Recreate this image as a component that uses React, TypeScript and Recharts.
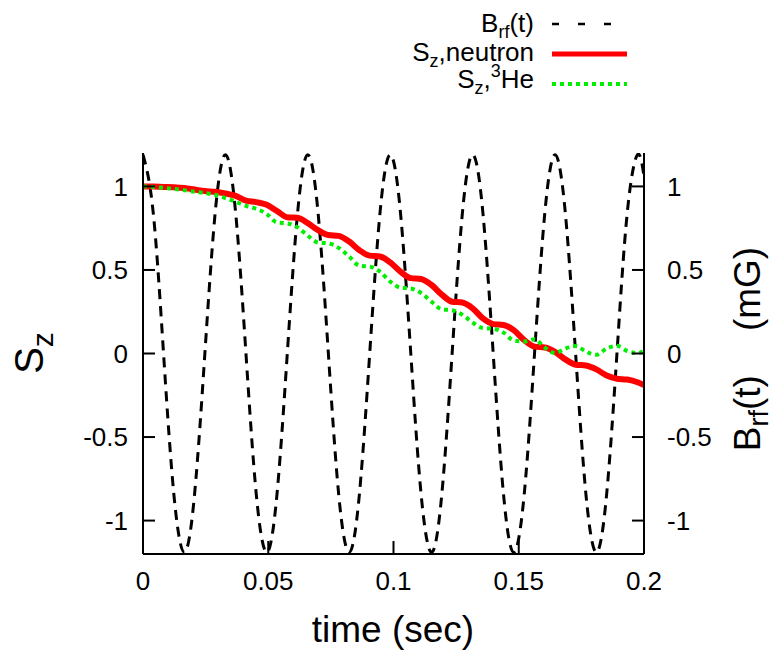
import { LineChart, Line, XAxis, YAxis, Legend, Label } from 'recharts';

const timeSec = [
  0, 0.0041, 0.0082, 0.0123, 0.0165, 0.0206, 0.0247, 0.0288, 0.0329, 0.037,
  0.0411, 0.0452, 0.0494, 0.0535, 0.0576, 0.0617, 0.0658, 0.0699, 0.074, 0.0781,
  0.0823, 0.0864, 0.0905, 0.0946, 0.0987, 0.1028, 0.1069, 0.111, 0.1152, 0.1193,
  0.1234, 0.1275, 0.1316, 0.1357, 0.1398, 0.1439, 0.148, 0.1522, 0.1563, 0.1604,
  0.1645, 0.1686, 0.1727, 0.1768, 0.181, 0.1851, 0.1892, 0.1933, 0.1974, 0.2,
];

const brfValues = [
  1.19, 0.84, 0, -0.84, -1.19, -0.84, 0, 0.84,
  1.19, 0.84, 0, -0.84, -1.19, -0.84, 0, 0.84,
  1.19, 0.84, 0, -0.84, -1.19, -0.84, 0, 0.84,
  1.19, 0.84, 0, -0.84, -1.19, -0.84, 0, 0.84,
  1.19, 0.84, 0, -0.84, -1.19, -0.84, 0, 0.84,
  1.19, 0.84, 0, -0.84, -1.19, -0.84, 0, 0.84,
  1.19, 1.06,
];

const neutronValues = [
  1.0, 0.999, 0.997, 0.995, 0.99, 0.981, 0.972, 0.968, 0.958, 0.943,
  0.915, 0.906, 0.89, 0.853, 0.815, 0.812, 0.78, 0.738, 0.709, 0.704,
  0.67, 0.618, 0.586, 0.581, 0.545, 0.49, 0.451, 0.446, 0.41, 0.352,
  0.31, 0.305, 0.27, 0.21, 0.176, 0.171, 0.14, 0.08, 0.041, 0.036,
  0.01, -0.035, -0.067, -0.072, -0.095, -0.132, -0.151, -0.156, -0.172, -0.189,
];

const heliumValues = [
  1.0, 0.997, 0.991, 0.985, 0.977, 0.968, 0.96, 0.95, 0.93, 0.908,
  0.884, 0.866, 0.835, 0.784, 0.779, 0.755, 0.705, 0.664, 0.659, 0.632,
  0.58, 0.525, 0.52, 0.49, 0.43, 0.394, 0.389, 0.362, 0.31, 0.264,
  0.259, 0.232, 0.185, 0.152, 0.148, 0.125, 0.078, 0.072, 0.085, 0.035,
  0.003, 0.03, 0.045, 0.012, -0.008, 0.03, 0.046, 0.015, 0.002, 0.018,
];

const xTicks = [0, 0.05, 0.1, 0.15, 0.2];
const xTickLabels = ['0', '0.05', '0.1', '0.15', '0.2'];
const yTicks = [-1, -0.5, 0, 0.5, 1];
const yTickLabels = ['-1', '-0.5', '0', '0.5', '1'];

const chartData = timeSec.map((t, i) => ({
  t,
  brf: brfValues[i],
  neutron: neutronValues[i],
  helium: heliumValues[i],
}));

const FONT = '"Liberation Sans", Arial, Helvetica, sans-serif';
const GREEN = '#00ee00';

const xLabel = (v: number) => xTickLabels[xTicks.indexOf(v)] ?? String(v);
const yLabel = (v: number) => yTickLabels[yTicks.indexOf(v)] ?? String(v);

function KeyBox() {
  return (
    <svg width={778} height={100} style={{ display: 'block', fontFamily: FONT }}>
      <text x={534} y={32} textAnchor="end" fontSize={26} fill="#000">
        B<tspan dy={6} fontSize={18}>rf</tspan>
        <tspan dy={-6}>(t)</tspan>
      </text>
      <line x1={552} x2={627} y1={24} y2={24} stroke="#000" strokeWidth={2.5} strokeDasharray="7 19" />

      <text x={534} y={61} textAnchor="end" fontSize={26} fill="#000">
        S<tspan dy={6} fontSize={18}>z</tspan>
        <tspan dy={-6}>,neutron</tspan>
      </text>
      <line x1={552} x2={627} y1={54} y2={54} stroke="#ff0000" strokeWidth={5} />

      <text x={534} y={88} textAnchor="end" fontSize={26} fill="#000">
        S<tspan dy={6} fontSize={18}>z</tspan>
        <tspan dy={-6}>,</tspan>
        <tspan dy={-11} fontSize={18}>3</tspan>
        <tspan dy={11}>He</tspan>
      </text>
      <line x1={552} x2={627} y1={84} y2={84} stroke={GREEN} strokeWidth={4} strokeDasharray="4 4" />
    </svg>
  );
}

export default function App() {
  const tickFont = { fill: '#000', fontSize: 26, fontFamily: FONT };
  return (
    <div style={{ position: 'absolute', left: 0, top: 0, width: 778, height: 658, background: '#fff' }}>
      <LineChart
        width={778}
        height={658}
        data={chartData}
        margin={{ top: 153, right: 0, bottom: 0, left: 0 }}
      >
        <XAxis
          dataKey="t"
          type="number"
          domain={[0, 0.2]}
          ticks={xTicks}
          tickFormatter={xLabel}
          allowDataOverflow
          height={104}
          tickSize={-13}
          tickMargin={31}
          tick={tickFont}
          stroke="#000"
          strokeWidth={2}
          interval={0}
        >
          <Label
            content={() => (
              <text x={393} y={642} textAnchor="middle" fontSize={37} fontFamily={FONT} fill="#000">
                time (sec)
              </text>
            )}
          />
        </XAxis>
        <XAxis
          xAxisId="top"
          orientation="top"
          dataKey="t"
          type="number"
          domain={[0, 0.2]}
          ticks={xTicks}
          allowDataOverflow
          height={0}
          tickSize={-13}
          tick={false}
          stroke="#000"
          strokeWidth={2}
        />
        <YAxis
          yAxisId="left"
          type="number"
          domain={[-1.2, 1.2]}
          ticks={yTicks}
          tickFormatter={yLabel}
          allowDataOverflow
          width={143}
          tickSize={-12}
          tickMargin={27}
          tick={tickFont}
          stroke="#000"
          strokeWidth={2}
          interval={0}
        >
          <Label
            content={() => (
              <text
                x={43}
                y={353}
                transform="rotate(-90 43 353)"
                textAnchor="middle"
                fontSize={40}
                fontFamily={FONT}
                fill="#000"
              >
                S<tspan dy={10} fontSize={30}>z</tspan>
              </text>
            )}
          />
        </YAxis>
        <YAxis
          yAxisId="right"
          orientation="right"
          type="number"
          domain={[-1.2, 1.2]}
          ticks={yTicks}
          tickFormatter={yLabel}
          allowDataOverflow
          width={134}
          tickSize={-12}
          tickMargin={35}
          tick={tickFont}
          stroke="#000"
          strokeWidth={2}
          interval={0}
        >
          <Label
            content={() => (
              <text
                x={760}
                y={349}
                transform="rotate(-90 760 349)"
                textAnchor="middle"
                fontSize={37}
                fontFamily={FONT}
                fill="#000"
              >
                B<tspan dy={8} fontSize={27}>rf</tspan>
                <tspan dy={-8}>(t)</tspan>
                <tspan dx={44}>(mG)</tspan>
              </text>
            )}
          />
        </YAxis>
        <Legend
          layout="vertical"
          align="center"
          verticalAlign="middle"
          content={() => <KeyBox />}
          wrapperStyle={{ position: 'absolute', left: 0, top: 0, width: 778, height: 100 }}
        />
        <Line
          yAxisId="right"
          dataKey="brf"
          type="natural"
          stroke="#000"
          strokeWidth={3}
          strokeDasharray="10 7"
          dot={false}
          activeDot={false}
          isAnimationActive={false}
        />
        <Line
          yAxisId="left"
          dataKey="neutron"
          type="monotone"
          stroke="#ff0000"
          strokeWidth={6}
          dot={false}
          activeDot={false}
          isAnimationActive={false}
        />
        <Line
          yAxisId="left"
          dataKey="helium"
          type="monotone"
          stroke={GREEN}
          strokeWidth={4}
          strokeDasharray="4 4"
          dot={false}
          activeDot={false}
          isAnimationActive={false}
        />
      </LineChart>
    </div>
  );
}
